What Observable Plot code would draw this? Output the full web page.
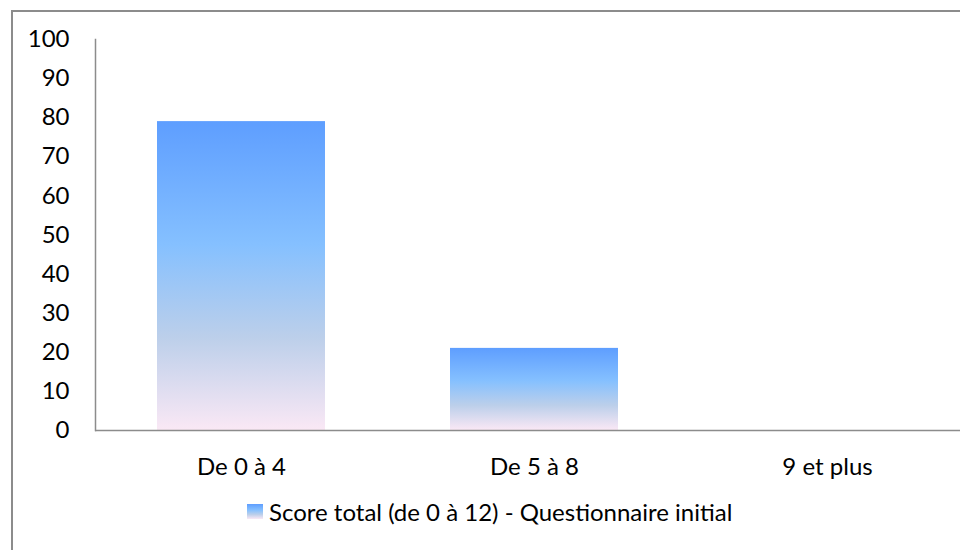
<!DOCTYPE html>
<html>
<head>
<meta charset="utf-8">
<script src="https://cdn.jsdelivr.net/npm/d3@7"></script>
<script src="https://cdn.jsdelivr.net/npm/@observablehq/plot@0.6"></script>
<style>
  html, body { margin: 0; padding: 0; background: #fff; overflow: hidden; width: 960px; height: 550px; }
  #wrap { position: relative; width: 960px; height: 550px; overflow: hidden; }
  #frame { position: absolute; left: 11px; top: 10px; width: 980px; height: 580px; border: 2px solid #8c8c8c; box-sizing: border-box; }
  #chart { position: absolute; left: 0; top: 0; width: 974px; }
  #chart svg { max-width: none !important; }
  #legend { position: absolute; left: 247px; top: 497px; font-family: Lato, "Open Sans", sans-serif; font-size: 24px; color: #000; display: flex; align-items: center; white-space: nowrap; }
  #legend .sw { width: 16px; height: 15px; margin-right: 6px; background: linear-gradient(to bottom, #5e9eff 0%, #85c0ff 40%, #bccfea 70%, #fae8f5 100%); }
</style>
</head>
<body>
<div id="wrap">
<div id="frame"></div>
<div id="chart"></div>
<div id="legend"><div class="sw"></div><span id="legtext"></span></div>
</div>
<script>
const categories = ["De 0 à 4", "De 5 à 8", "9 et plus"];
const values = [79, 21, 0];
const yTicks = [0, 10, 20, 30, 40, 50, 60, 70, 80, 90, 100];
const seriesName = "Score total (de 0 à 12) - Questionnaire initial";

const data = categories.map((c, i) => ({category: c, value: values[i]}));

const chart = Plot.plot({
  width: 974,
  height: 490,
  marginLeft: 95,
  marginRight: 0,
  marginTop: 39,
  marginBottom: 60,
  style: {fontFamily: "Lato, 'Open Sans', sans-serif", fontSize: "24px", color: "#000", background: "transparent", overflow: "visible", maxWidth: "none"},
  x: {domain: categories, paddingInner: 0.425, paddingOuter: 0.2125, label: null},
  y: {domain: [0, 100], label: null},
  marks: [
    Plot.barY(data, {x: "category", y: "value", fill: "url(#barGrad)"}),
    Plot.axisX({tickSize: 0, tickPadding: 27, label: null, fontSize: 24}),
    Plot.axisY({ticks: yTicks, tickSize: 0, tickPadding: 26, label: null, fontSize: 24}),
    Plot.ruleY([0], {stroke: "#8c8c8c", strokeWidth: 1.5}),
    Plot.frame({anchor: "left", stroke: "#8c8c8c", strokeWidth: 1.5})
  ]
});
chart.style.maxWidth = "none";

const ns = "http://www.w3.org/2000/svg";
const defs = document.createElementNS(ns, "defs");
const grad = document.createElementNS(ns, "linearGradient");
grad.setAttribute("id", "barGrad");
grad.setAttribute("x1", "0"); grad.setAttribute("y1", "0");
grad.setAttribute("x2", "0"); grad.setAttribute("y2", "1");
[["0%", "#5e9eff"], ["40%", "#85c0ff"], ["70%", "#bccfea"], ["100%", "#fae8f5"]].forEach(([o, c]) => {
  const s = document.createElementNS(ns, "stop");
  s.setAttribute("offset", o); s.setAttribute("stop-color", c);
  grad.appendChild(s);
});
defs.appendChild(grad);
chart.insertBefore(defs, chart.firstChild);

document.getElementById("chart").appendChild(chart);
document.getElementById("legtext").textContent = seriesName;
</script>
</body>
</html>
